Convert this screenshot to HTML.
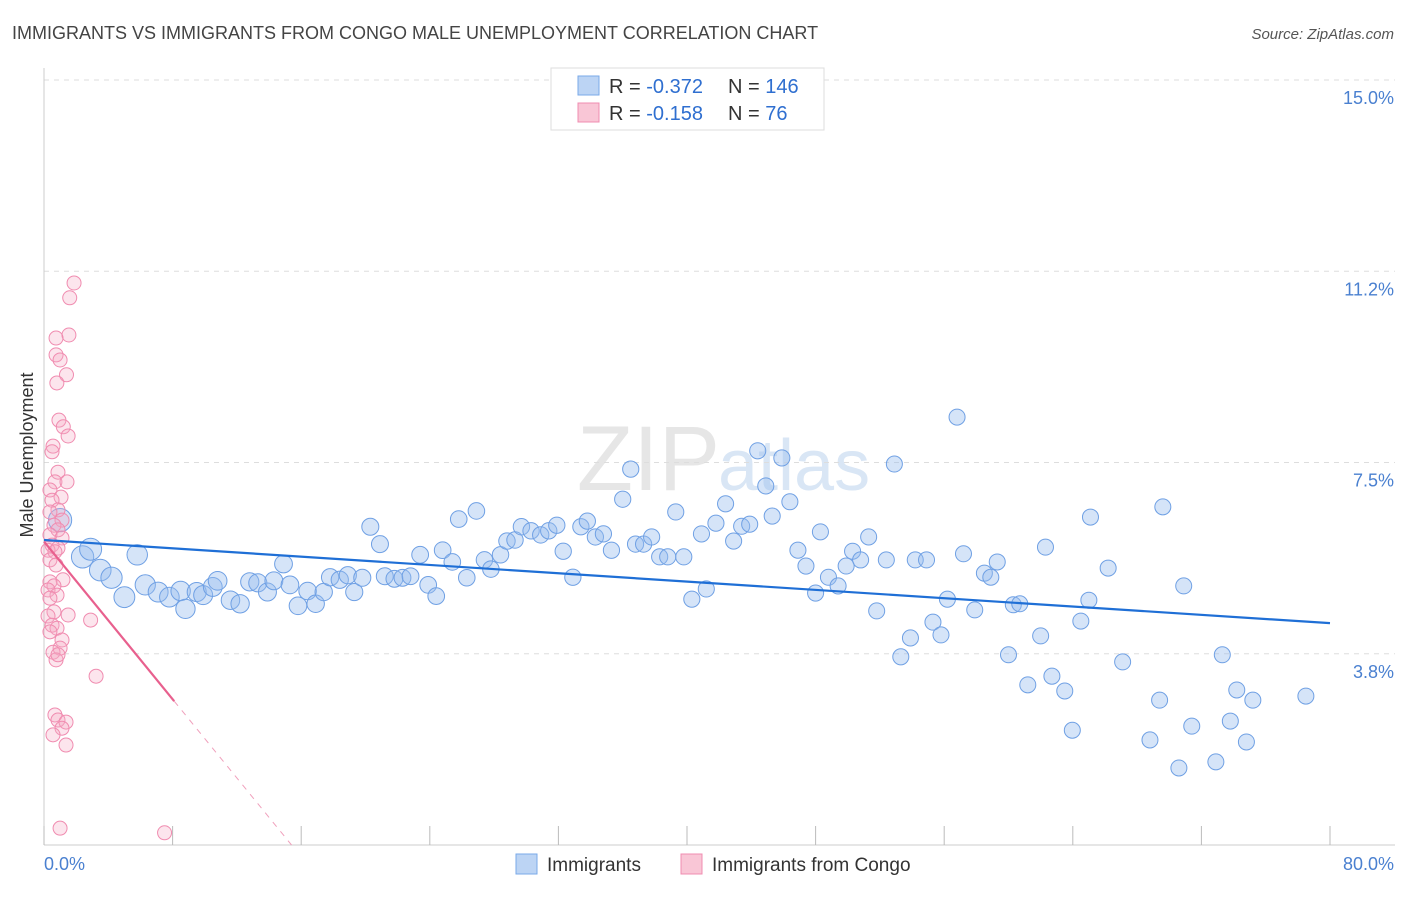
<!DOCTYPE html>
<html><head><meta charset="utf-8"><style>
body{margin:0;background:#fff;font-family:"Liberation Sans",sans-serif}
svg text{font-family:"Liberation Sans",sans-serif}
</style></head><body>
<svg id="c" width="1406" height="892" xmlns="http://www.w3.org/2000/svg">
<text x="12" y="39" font-size="18" fill="#444">IMMIGRANTS VS IMMIGRANTS FROM CONGO MALE UNEMPLOYMENT CORRELATION CHART</text>
<text x="1394" y="39" font-size="15" fill="#555" font-style="italic" text-anchor="end">Source: ZipAtlas.com</text>
<text x="720" y="490" font-size="92" fill="#e6e6e6" text-anchor="end" font-family="Liberation Serif">ZIP</text>
<text x="718" y="490" font-size="72" fill="#d9e6f5">atlas</text>
<g id="grid"></g><g id="ticks"></g><g id="pts"></g><g id="lines"></g>
<text transform="translate(33,455) rotate(-90)" font-size="18" fill="#333" text-anchor="middle">Male Unemployment</text>
<text x="44" y="870" font-size="18" fill="#4a80d0">0.0%</text>
<text x="1394" y="870" font-size="18" fill="#4a80d0" text-anchor="end">80.0%</text>
<g>
<rect x="551" y="68" width="273" height="62" fill="#fff" stroke="#ddd"/>
<rect x="578" y="76" width="21" height="19" fill="#bcd4f4" stroke="#7aaae8"/>
<rect x="578" y="103" width="21" height="19" fill="#f9c6d6" stroke="#f08cb0"/>
<text x="609" y="93" font-size="20" fill="#333">R = <tspan fill="#2f6fd0">-0.372</tspan></text>
<text x="728" y="93" font-size="20" fill="#333">N = <tspan fill="#2f6fd0">146</tspan></text>
<text x="609" y="120" font-size="20" fill="#333">R =  <tspan fill="#2f6fd0">-0.158</tspan></text>
<text x="728" y="120" font-size="20" fill="#333">N =   <tspan fill="#2f6fd0"> 76</tspan></text>
</g>
<g>
<rect x="516" y="854" width="21" height="20" fill="#bcd4f4" stroke="#7aaae8"/>
<text x="547" y="871" font-size="19" fill="#333">Immigrants</text>
<rect x="681" y="854" width="21" height="20" fill="#f9c6d6" stroke="#f08cb0"/>
<text x="712" y="871" font-size="19" fill="#333">Immigrants from Congo</text>
</g>
</svg>
<script>
const yTicks=[3.75,7.5,11.25,15];
const yTickLabels=["3.8%","7.5%","11.2%","15.0%"];
const xTicks=[0,8,16,24,32,40,48,56,64,72,80];
const blueX=[1.0,2.4,2.9,3.5,4.2,5.0,5.8,6.3,7.1,7.8,8.5,8.8,9.5,9.9,10.5,10.8,11.6,12.2,12.8,13.3,13.9,14.3,14.9,15.3,15.8,16.4,16.9,17.4,17.8,18.4,18.9,19.3,19.8,20.3,20.9,21.2,21.8,22.3,22.8,23.4,23.9,24.4,24.8,25.4,25.8,26.3,26.9,27.4,27.8,28.4,28.8,29.3,29.7,30.3,30.9,31.4,31.9,32.3,32.9,33.4,33.8,34.3,34.8,35.3,36.0,36.5,36.8,37.3,37.8,38.3,38.8,39.3,39.8,40.3,40.9,41.2,41.8,42.4,42.9,43.4,43.9,44.4,44.9,45.3,45.9,46.4,46.9,47.4,48.0,48.3,48.8,49.4,49.9,50.3,50.8,51.3,51.8,52.4,52.9,53.3,53.9,54.2,54.9,55.3,55.8,56.2,56.8,57.2,57.9,58.5,58.9,59.3,60.0,60.3,60.7,61.2,62.0,62.3,62.7,63.5,63.97,64.5,65.0,65.1,66.2,67.1,68.8,69.4,69.6,70.6,70.9,71.4,72.9,73.3,73.8,74.2,74.8,75.2,78.5];
const blueY=[6.37,5.65,5.8,5.39,5.24,4.86,5.69,5.1,4.96,4.86,4.98,4.63,4.96,4.9,5.06,5.18,4.8,4.73,5.16,5.14,4.96,5.18,5.51,5.1,4.69,4.98,4.73,4.96,5.25,5.2,5.29,4.96,5.24,6.24,5.9,5.27,5.22,5.24,5.27,5.69,5.1,4.88,5.78,5.55,6.39,5.24,6.55,5.59,5.41,5.69,5.96,5.98,6.24,6.16,6.08,6.16,6.27,5.76,5.25,6.24,6.35,6.04,6.1,5.78,6.78,7.37,5.9,5.9,6.04,5.65,5.65,6.53,5.65,4.82,6.1,5.02,6.31,6.69,5.96,6.25,6.29,7.73,7.04,6.45,7.59,6.73,5.78,5.47,4.94,6.14,5.25,5.08,5.47,5.76,5.59,6.04,4.59,5.59,7.47,3.69,4.06,5.59,5.59,4.37,4.12,4.82,8.39,5.71,4.61,5.33,5.25,5.55,3.73,4.71,4.73,3.14,4.1,5.84,3.31,3.02,2.25,4.39,4.8,6.43,5.43,3.59,2.06,2.84,6.63,1.51,5.08,2.33,1.63,3.73,2.43,3.04,2.02,2.84,2.92];
const pinkX=[1.87,1.6,1.55,0.75,0.75,1.0,1.4,0.8,0.93,1.2,1.5,0.56,0.5,0.87,0.68,1.43,0.37,1.06,0.5,0.87,0.37,1.12,0.62,0.87,0.37,1.12,0.5,0.87,0.25,0.68,0.37,0.75,1.18,0.37,0.62,0.25,0.81,0.37,1.5,0.62,0.25,0.5,0.81,0.37,1.12,2.9,1.0,0.56,0.75,0.87,3.24,0.68,0.87,1.37,1.12,0.56,1.37,1.0,7.5];
const pinkY=[11.02,10.73,10.0,9.94,9.61,9.51,9.22,9.06,8.33,8.2,8.02,7.82,7.71,7.31,7.12,7.12,6.96,6.82,6.76,6.57,6.53,6.37,6.27,6.18,6.08,6.02,5.88,5.82,5.78,5.75,5.59,5.49,5.2,5.16,5.08,5.0,4.9,4.84,4.51,4.57,4.49,4.31,4.25,4.18,4.02,4.41,3.86,3.78,3.63,3.73,3.31,2.55,2.45,2.41,2.29,2.16,1.96,0.33,0.24];
const blueTrend=[5.98,4.35];
const pinkTrend=[5.95,0];
const X=v=>44+v*16.075, Y=v=>845-v*51;
const NS="http://www.w3.org/2000/svg";
function mk(tag,attrs,parent){const e=document.createElementNS(NS,tag);for(const k in attrs)e.setAttribute(k,attrs[k]);document.getElementById(parent).appendChild(e);return e;}
yTicks.forEach((t,i)=>{
  const l=mk('line',{x1:44,x2:1395,y1:Y(t),y2:Y(t),stroke:'#ddd','stroke-dasharray':'5,5'},'grid');
  
  
  const tx=mk('text',{x:1394,y:Y(t)+24,'font-size':18,fill:'#4a80d0','text-anchor':'end'},'grid');
  tx.textContent=yTickLabels[i];
  
  
});
const ax=mk('line',{x1:44,x2:44,y1:68,y2:845,stroke:'#ccc'},'ticks');


const bx=mk('line',{x1:44,x2:1395,y1:845,y2:845,stroke:'#ccc'},'ticks');


xTicks.forEach(t=>{
  const l=mk('line',{x1:X(t),x2:X(t),y1:826,y2:845,stroke:'#bbb'},'ticks');
  
  
});
blueX.forEach((x,i)=>{
  const r=8+4*Math.exp(-x/10);
  const c=mk('circle',{cx:X(x),cy:Y(blueY[i]),r:r,fill:'rgba(150,188,238,0.4)',stroke:'#6fa0e4','stroke-width':1},'pts');
  
  
});
pinkX.forEach((x,i)=>{
  const c=mk('circle',{cx:X(x),cy:Y(pinkY[i]),r:7,fill:'rgba(245,170,195,0.3)',stroke:'#f08cb0','stroke-width':1},'pts');
  
  
});
const bl=mk('line',{x1:X(0),y1:Y(blueTrend[0]),x2:X(80),y2:Y(blueTrend[1]),stroke:'#1f6fd6','stroke-width':2.2},'lines');


const xEnd=15.4, xSolid=8.1;
const pAt=x=>pinkTrend[0]+(pinkTrend[1]-pinkTrend[0])*x/xEnd;
const pl=mk('line',{x1:X(0),y1:Y(pinkTrend[0]),x2:X(xSolid),y2:Y(pAt(xSolid)),stroke:'#e8608e','stroke-width':2.2},'lines');


const pd=mk('line',{x1:X(xSolid),y1:Y(pAt(xSolid)),x2:X(xEnd),y2:Y(pinkTrend[1]),stroke:'#f0a0bc','stroke-width':1,'stroke-dasharray':'6,6'},'lines');


</script>
</body></html>
